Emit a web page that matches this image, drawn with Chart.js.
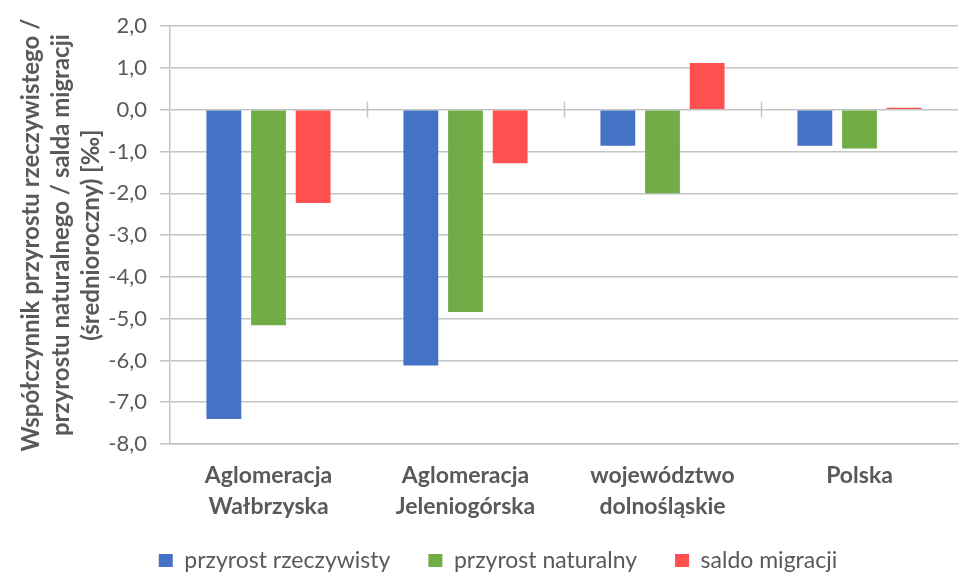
<!DOCTYPE html>
<html>
<head>
<meta charset="utf-8">
<script src="https://cdn.jsdelivr.net/npm/chart.js@4"></script>
<style>
  html, body { margin: 0; padding: 0; background: #ffffff; }
  #wrap { width: 962px; height: 574px; position: relative; }
</style>
</head>
<body>
<div id="wrap"><canvas id="c"></canvas></div>
<script>
const categories = [
  ["Aglomeracja", "Wałbrzyska"],
  ["Aglomeracja", "Jeleniogórska"],
  ["województwo", "dolnośląskie"],
  ["Polska"]
];
const seriesNames = ["przyrost rzeczywisty", "przyrost naturalny", "saldo migracji"];
const przyrostRzeczywisty = [-7.40, -6.12, -0.86, -0.86];
const przyrostNaturalny = [-5.16, -4.84, -2.00, -0.93];
const saldoMigracji = [-2.23, -1.28, 1.12, 0.05];
const yTitle = [
  "Współczynnik przyrostu rzeczywistego /",
  "przyrostu naturalnego / salda migracji",
  "(średnioroczny) [‰]"
];
const yMin = -8, yMax = 2, yStep = 1;

const textColor = "#595959";
const gridColor = "#C4C4C4";
const fontFamily = "Lato, 'Open Sans', sans-serif";

const zeroTicks = {
  id: "zeroTicks",
  afterDatasetsDraw(chart) {
    const x = chart.scales.x, y = chart.scales.y;
    const y0 = y.getPixelForValue(0);
    const ctx = chart.ctx;
    ctx.save();
    ctx.strokeStyle = gridColor;
    ctx.lineWidth = 1.5;
    for (let i = 0; i < categories.length - 1; i++) {
      const xb = (x.getPixelForTick(i) + x.getPixelForTick(i + 1)) / 2;
      ctx.beginPath();
      ctx.moveTo(Math.round(xb) + 0.5, y0 - 8);
      ctx.lineTo(Math.round(xb) + 0.5, y0 + 8);
      ctx.stroke();
    }
    ctx.restore();
  }
};

const legendFix = {
  id: "legendFix",
  beforeLayout(chart) {
    const lg = chart.legend;
    if (lg && !lg._patched) {
      const f = lg.fit;
      lg.fit = function () { f.call(this); this.height = 44; };
      lg._patched = true;
    }
  },
  afterLayout(chart) {
    const lg = chart.legend;
    if (lg) { lg.left += 11; lg.right += 11; lg.top -= 19; lg.bottom = chart.height; }
  }
};

new Chart(document.getElementById("c"), {
  type: "bar",
  data: {
    labels: categories,
    datasets: [
      { label: seriesNames[0], data: przyrostRzeczywisty, backgroundColor: "#4472C4" },
      { label: seriesNames[1], data: przyrostNaturalny, backgroundColor: "#70AD47" },
      { label: seriesNames[2], data: saldoMigracji, backgroundColor: "#FF5050" }
    ]
  },
  options: {
    responsive: true,
    maintainAspectRatio: false,
    animation: false,
    layout: { padding: { left: 16, right: 4, top: 17, bottom: 0 } },
    datasets: { bar: { categoryPercentage: 0.68, barPercentage: 0.78, borderWidth: 0 } },
    plugins: {
      legend: {
        position: "bottom",
        labels: {
          color: textColor,
          font: { family: fontFamily, size: 23 },
          boxWidth: 14,
          boxHeight: 13,
          padding: 38
        }
      },
      tooltip: { enabled: false }
    },
    scales: {
      x: {
        afterFit(scale) { scale.height = 86; },
        grid: { display: false, drawTicks: false },
        border: { display: true, color: gridColor, width: 1.5 },
        ticks: {
          color: textColor,
          font: { family: fontFamily, size: 23, weight: "bold", lineHeight: 1.35 },
          padding: 16,
          maxRotation: 0
        }
      },
      y: {
        min: yMin,
        max: yMax,
        afterFit(scale) { scale.width = 154; },
        ticks: {
          stepSize: yStep,
          color: textColor,
          font: { family: fontFamily, size: 22 },
          padding: 13,
          callback: (v) => v.toFixed(1).replace(".", ",")
        },
        grid: { color: gridColor, lineWidth: 1.5, tickLength: 10, drawTicks: true },
        border: { display: true, color: gridColor, width: 1.5 },
        title: {
          display: true,
          text: yTitle,
          color: textColor,
          font: { family: fontFamily, size: 24, weight: "bold", lineHeight: 1.25 },
          padding: { top: 0, bottom: 4 }
        }
      }
    }
  },
  plugins: [zeroTicks, legendFix]
});
</script>
</body>
</html>
